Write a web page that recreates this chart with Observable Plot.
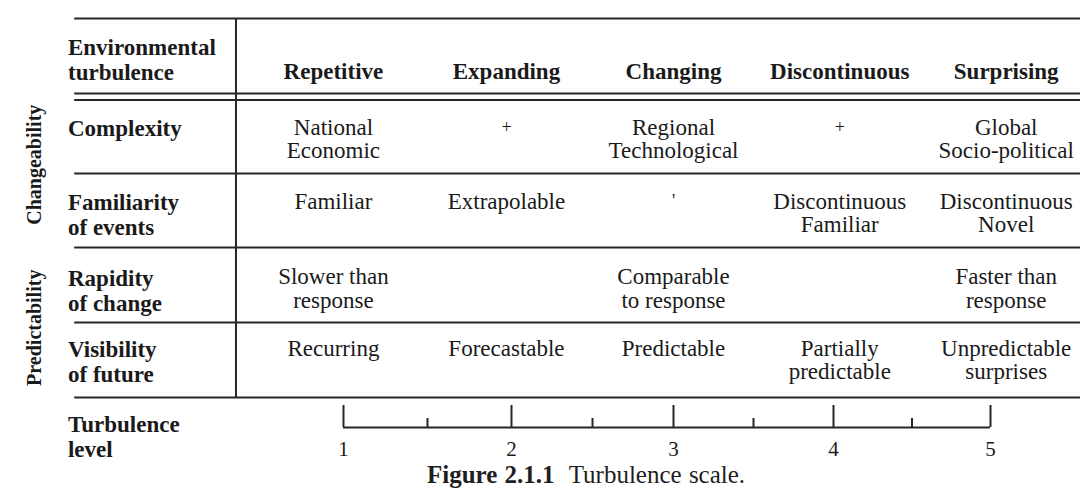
<!DOCTYPE html>
<html>
<head>
<meta charset="utf-8">
<script src="https://cdn.jsdelivr.net/npm/d3@7"></script>
<script src="https://cdn.jsdelivr.net/npm/@observablehq/plot@0.6"></script>
<style>
  html, body { margin: 0; padding: 0; background: #fff; }
  #chart svg { display: block; }
  #caption {
    width: 1080px; height: 26px; box-sizing: border-box;
    padding-left: 427px; line-height: 14px;
    font-family: "Liberation Serif", serif; font-size: 25px; color: #1e1e1e;
    white-space: pre; word-spacing: 1px;
  }
</style>
</head>
<body>
<div id="chart"></div>
<div id="caption"></div>
<script>
// ---------- data ----------
const headerLabel = "Environmental\nturbulence";
const turbulenceTypes = ["Repetitive", "Expanding", "Changing", "Discontinuous", "Surprising"];
const attributes = ["Complexity", "Familiarity\nof events", "Rapidity\nof change", "Visibility\nof future"];
const complexity = ["National\nEconomic", "+", "Regional\nTechnological", "+", "Global\nSocio-political"];
const familiarity = ["Familiar", "Extrapolable", "'", "Discontinuous\nFamiliar", "Discontinuous\nNovel"];
const rapidity = ["Slower than\nresponse", "", "Comparable\nto response", "", "Faster than\nresponse"];
const visibility = ["Recurring", "Forecastable", "Predictable", "Partially\npredictable", "Unpredictable\nsurprises"];
const groups = ["Changeability", "Predictability"];
const scaleLabel = "Turbulence\nlevel";
const scaleTicks = [1, 2, 3, 4, 5];
const scaleMinorTicks = [1.5, 2.5, 3.5, 4.5];
const captionBold = "Figure 2.1.1";
const captionText = "Turbulence scale.";

// ---------- layout (in scale units: x = turbulence level, y = table row) ----------
const layout = {
  colX: [0.94, 1.97, 3.0, 4.04, 5.10],
  labelX: -0.64,
  groupX: -0.84,
  groupY: [1.89, 4.07],
  ruleStart: -0.60,
  ruleEnd: 5.62,
  dividerX: 0.36,
  headerLabelY: 0.25,
  headerColY: 0.59,
  rowTextY: [null, 1.31, 2.25, 3.27, 4.22],
  rowLines: [0, 1, 1.08, 2, 3, 4, 5],
  scaleLabelY: 5.22,
  scaleBaseY: 5.40,
  majorTopY: 5.107,
  minorTopY: 5.28,
  scaleNumY: 5.69
};

const rows = [complexity, familiarity, rapidity, visibility];
const cells = rows.flatMap((r, i) => r.map((t, j) => ({row: i + 1, col: j, text: t}))).filter(d => d.text);
const bigCells = cells.filter(d => d.text.length > 1);
const smallCells = cells.filter(d => d.text.length === 1);

const ink = "#1a1a1a";
const lineInk = "#262626";

const chart = Plot.plot({
  width: 1080,
  height: 468,
  margin: 0,
  x: {type: "linear", domain: [1, 2, 3, 4, 5], range: [343, 511, 673, 833, 990], axis: null},
  y: {type: "linear", domain: [0, 1, 2, 3, 4, 5], range: [18, 93, 173, 247, 322, 397], axis: null},
  style: {fontFamily: "'Liberation Serif', serif", background: "#fff", color: ink},
  marks: [
    // table horizontal rules
    Plot.ruleY(layout.rowLines, {x1: layout.ruleStart, x2: layout.ruleEnd, stroke: lineInk, strokeWidth: 2}),
    // vertical divider
    Plot.ruleX([layout.dividerX], {y1: 0, y2: 5, stroke: lineInk, strokeWidth: 2}),
    // header row
    Plot.text([headerLabel], {x: layout.labelX, y: layout.headerLabelY, text: d => d, textAnchor: "start", lineAnchor: "top", fontWeight: "bold", fontSize: 23, lineHeight: 1.09, fill: ink}),
    Plot.text(turbulenceTypes, {x: (d, i) => layout.colX[i], y: layout.headerColY, text: d => d, textAnchor: "middle", lineAnchor: "top", fontWeight: "bold", fontSize: 23, fill: ink}),
    // row labels
    Plot.text(attributes, {x: layout.labelX, y: (d, i) => layout.rowTextY[i + 1], text: d => d, textAnchor: "start", lineAnchor: "top", fontWeight: "bold", fontSize: 23, lineHeight: 1.09, fill: ink}),
    // group labels (rotated)
    Plot.text(groups, {x: layout.groupX, y: (d, i) => layout.groupY[i], text: d => d, rotate: -90, textAnchor: "middle", lineAnchor: "middle", fontWeight: "bold", fontSize: 20, fill: ink}),
    // body cells
    Plot.text(bigCells, {x: d => layout.colX[d.col], y: d => layout.rowTextY[d.row], text: "text", textAnchor: "middle", lineAnchor: "top", fontSize: 23, lineHeight: 1.02, fill: ink}),
    Plot.text(smallCells, {x: d => layout.colX[d.col], y: d => layout.rowTextY[d.row], text: "text", textAnchor: "middle", lineAnchor: "top", fontSize: 18, dy: 2, fill: ink}),
    // turbulence level scale
    Plot.text([scaleLabel], {x: layout.labelX, y: layout.scaleLabelY, text: d => d, textAnchor: "start", lineAnchor: "top", fontWeight: "bold", fontSize: 23, lineHeight: 1.09, fill: ink}),
    Plot.ruleY([layout.scaleBaseY], {x1: scaleTicks[0], x2: scaleTicks[scaleTicks.length - 1], stroke: lineInk, strokeWidth: 2}),
    Plot.ruleX(scaleTicks, {x: d => d, y1: layout.majorTopY, y2: layout.scaleBaseY, stroke: lineInk, strokeWidth: 2}),
    Plot.ruleX(scaleMinorTicks, {x: d => d, y1: layout.minorTopY, y2: layout.scaleBaseY, stroke: lineInk, strokeWidth: 2}),
    Plot.text(scaleTicks, {x: d => d, y: layout.scaleNumY, text: d => String(d), textAnchor: "middle", lineAnchor: "middle", fontSize: 21, fill: ink})
  ]
});
document.getElementById("chart").append(chart);

const cap = document.getElementById("caption");
const b = document.createElement("b");
b.textContent = captionBold;
cap.append(b, document.createTextNode("  " + captionText));
</script>
</body>
</html>
